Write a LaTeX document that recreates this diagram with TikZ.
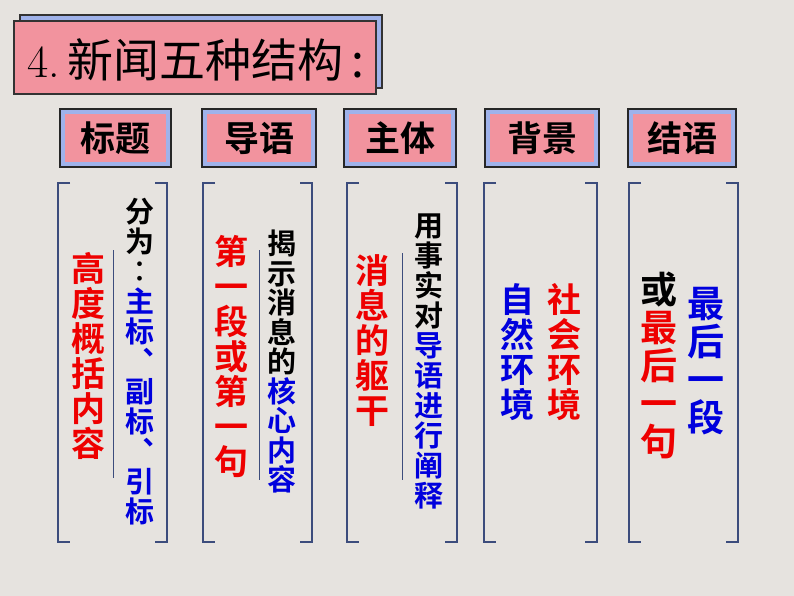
\documentclass[tikz,border=0pt]{standalone}
\usepackage{fontspec}
\newfontfamily\cjk{Noto Sans CJK SC}
\newfontfamily\cjkb{Noto Sans CJK SC Bold}
\definecolor{bg}{HTML}{E6E3DF}
\definecolor{pk}{HTML}{F2939E}
\definecolor{hb}{HTML}{9FB2EA}
\definecolor{br}{HTML}{3C4C7C}
\definecolor{rd}{HTML}{EE0000}
\definecolor{bl}{HTML}{0000DD}
\tikzset{
 hdr/.style={font=\cjkb\fontsize{35}{35}\selectfont, text=black},
 brk/.style={draw=br, line width=2.2pt},
 dv/.style={draw=br, line width=1pt},
 vt/.style={anchor=north, inner sep=0pt, align=center},
}
\begin{document}
\begin{tikzpicture}[x=1pt,y=-1pt]
\fill[bg] (0,0) rectangle (794,596);
\useasboundingbox (0,0) rectangle (794,596);
% title
\filldraw[fill=hb, draw=black!80, line width=1.2pt] (20,15) rectangle (382,88);
\filldraw[fill=pk, draw=black!80, line width=1.2pt] (14,21) rectangle (376,94);
\node[anchor=west, inner sep=0pt, font=\cjk\fontsize{46}{46}\selectfont] (title) at (27,60) {\rmfamily 4.\,\cjk 新闻五种结构\,:};
% headers
\foreach \xa/\xb/\t/\n in {60/171/标题/h1, 202/316/导语/h2, 344/456/主体/h3, 485/599/背景/h4, 628/736/结语/h5}{
  \filldraw[fill=hb, draw=black!85, line width=1.2pt] (\xa,109) rectangle (\xb,167);
  \fill[pk] (\xa+5,114) rectangle (\xb-5,162);
  \node[hdr] (\n) at ({(\xa+\xb)/2},138) {\t};
}
% brackets
\foreach \l/\r in {58/167, 203/312, 347/457, 484/597, 629/738}{
  \draw[brk] (\l+12,183) -- (\l,183) -- (\l,542) -- (\l+12,542);
  \draw[brk] (\r-12,183) -- (\r,183) -- (\r,542) -- (\r-12,542);
}
% dividers
\draw[dv] (113,250) -- (113,478);
\draw[dv] (259,250) -- (259,480);
\draw[dv] (402,253) -- (402,480);
% column 1
\node[vt, font=\cjkb\fontsize{34}{35}\selectfont, text=rd] (c1a) at (88,252) {高\\度\\概\\括\\内\\容};
\node[vt, font=\cjkb\fontsize{29}{30}\selectfont] (c1b) at (140,198) {分\\为\\︰\\\textcolor{bl}{主}\\\textcolor{bl}{标}\\\textcolor{bl}{︑}\\\textcolor{bl}{副}\\\textcolor{bl}{标}\\\textcolor{bl}{︑}\\\textcolor{bl}{引}\\\textcolor{bl}{标}};
% column 2
\node[vt, font=\cjkb\fontsize{34}{35}\selectfont, text=rd] (c2a) at (231,235) {第\\一\\段\\或\\第\\一\\句};
\node[vt, font=\cjkb\fontsize{29}{29.5}\selectfont] (c2b) at (282,230) {揭\\示\\消\\息\\的\\\textcolor{bl}{核}\\\textcolor{bl}{心}\\\textcolor{bl}{内}\\\textcolor{bl}{容}};
% column 3
\node[vt, font=\cjkb\fontsize{34}{35}\selectfont, text=rd] (c3a) at (372,254) {消\\息\\的\\躯\\干};
\node[vt, font=\cjkb\fontsize{29}{30}\selectfont] (c3b) at (429,214) {用\\事\\实\\对\\\textcolor{bl}{导}\\\textcolor{bl}{语}\\\textcolor{bl}{进}\\\textcolor{bl}{行}\\\textcolor{bl}{阐}\\\textcolor{bl}{释}};
% column 4
\node[vt, font=\cjkb\fontsize{34}{35}\selectfont, text=bl] (c4a) at (517,283) {自\\然\\环\\境};
\node[vt, font=\cjkb\fontsize{34}{35}\selectfont, text=rd] (c4b) at (564,283) {社\\会\\环\\境};
% column 5
\node[vt, font=\cjkb\fontsize{37}{38}\selectfont] (c5a) at (659,272) {或\\\textcolor{rd}{最}\\\textcolor{rd}{后}\\\textcolor{rd}{一}\\\textcolor{rd}{句}};
\node[vt, font=\cjkb\fontsize{37}{38}\selectfont, text=bl] (c5b) at (706,287) {最\\后\\一\\段};
\end{tikzpicture}
\end{document}
